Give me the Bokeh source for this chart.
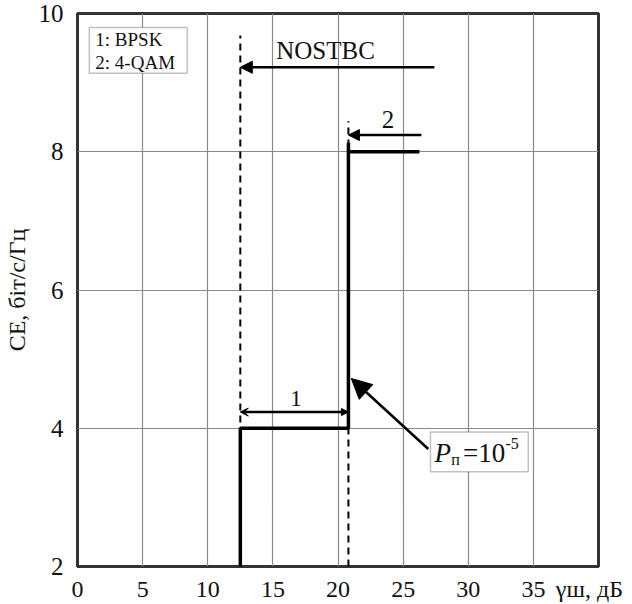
from bokeh.plotting import figure
from bokeh.models import (Range1d, FixedTicker, Label, Arrow, NormalHead, VeeHead,
                          BoxAnnotation)
from bokeh.embed import file_html
from bokeh.resources import INLINE

# ---- data ----
x_ticks = [0, 5, 10, 15, 20, 25, 30, 35, 40]
y_ticks = [2, 4, 6, 8, 10]
x_label_text = "γш, дБ"
x_label_tick = 39.3          # where the x-axis caption sits (after the 35 tick)
y_label_text = "СЕ, біт/с/Гц"

# CE step curve (gamma threshold, dB -> bits/s/Hz)
step_x = [12.5, 12.5, 20.8, 20.8]
step_y = [2.0, 4.0, 4.0, 8.13]
top_x = [20.8, 26.25]
top_y = [8.0, 8.0]

# dashed threshold lines
dash1_x = [12.5, 12.5]
dash1_y = [2.0, 9.68]
dash2_x = [20.8, 20.8]
dash2_y = [2.0, 8.44]

# annotation arrows: (x_start, y_start, x_end, y_end)
arrow_nostbc = [27.4, 9.222, 12.5, 9.222]
arrow_2 = [26.4, 8.241, 20.8, 8.241]
arrow_1 = [12.5, 4.234, 20.8, 4.234]
arrow_p = [26.93, 3.70, 21.02, 4.72]

# annotation texts
nostbc_text = "NOSTBC"
nostbc_pos = [15.26, 9.351]
lab2_text = "2"
lab2_pos = [23.83, 8.357]
lab1_text = "1"
lab1_pos = [16.77, 4.321]
legend_lines = ["1: BPSK", "2: 4-QAM"]
legend_pos = [[1.37, 9.539], [1.37, 9.207]]
legend_box = [0.91, 8.42, 9.135, 9.798]  # left, right, bottom, top
p_box = [27.10, 34.61, 3.369, 3.946]
p_parts = ["P", "п", "=10", "-5"]
p_pos = [[27.40, 3.513], [28.69, 3.47], [29.60, 3.513], [32.86, 3.70]]

FONT = "Liberation Serif"

p = figure(width=632, height=604, output_backend="svg", toolbar_location=None,
           x_range=Range1d(0, 40), y_range=Range1d(2, 10),
           min_border_left=71, min_border_right=34, min_border_top=13,
           min_border_bottom=36)
p.background_fill_color = "white"
p.border_fill_color = "white"
p.outline_line_color = "#333333"
p.outline_line_width = 3

axis_ticks = [t for t in x_ticks if t < 40] + [x_label_tick]
p.xaxis.ticker = FixedTicker(ticks=axis_ticks)
p.xgrid.ticker = FixedTicker(ticks=x_ticks)
p.yaxis.ticker = FixedTicker(ticks=y_ticks)
p.xaxis.major_label_overrides = {x_label_tick: x_label_text}
p.xaxis.axis_line_color = None
p.yaxis.axis_line_color = None
p.xaxis.major_tick_line_color = None
p.yaxis.major_tick_line_color = None
p.xaxis.minor_tick_line_color = None
p.yaxis.minor_tick_line_color = None
p.xaxis.major_label_text_font = FONT
p.yaxis.major_label_text_font = FONT
p.xaxis.major_label_text_font_size = "24px"
p.yaxis.major_label_text_font_size = "25px"
p.xaxis.major_label_text_color = "#111111"
p.yaxis.major_label_text_color = "#111111"
p.xaxis.major_label_standoff = 3
p.yaxis.major_label_standoff = 8
p.yaxis.axis_label = y_label_text
p.yaxis.axis_label_text_font = FONT
p.yaxis.axis_label_text_font_size = "24px"
p.yaxis.axis_label_text_font_style = "normal"
p.yaxis.axis_label_text_color = "#111111"
p.yaxis.axis_label_standoff = 6

p.grid.grid_line_color = "#8a8a8a"
p.grid.grid_line_width = 1.2
p.grid.grid_line_alpha = 1.0

# dashed lines
p.line(dash1_x, dash1_y, line_color="black", line_width=2, line_dash="7 5")
p.line(dash2_x, dash2_y, line_color="black", line_width=2, line_dash="7 5")

# step curve
p.line(step_x, step_y, line_color="black", line_width=3.5)
p.line(top_x, top_y, line_color="black", line_width=3.5)

# arrows
def add_arrow(a, lw, head_end=None, head_start=None):
    p.add_layout(Arrow(x_start=a[0], y_start=a[1], x_end=a[2], y_end=a[3],
                       line_color="black", line_width=lw,
                       end=head_end, start=head_start))

add_arrow(arrow_nostbc, 2.5, head_end=NormalHead(size=12, fill_color="black", line_color="black"))
add_arrow(arrow_2, 2.5, head_end=NormalHead(size=11, fill_color="black", line_color="black"))
add_arrow(arrow_1, 2.5, head_end=NormalHead(size=7, fill_color="black", line_color="black"),
          head_start=VeeHead(size=8, fill_color="black", line_color="black", line_width=1))
add_arrow(arrow_p, 2.5, head_end=NormalHead(size=20, fill_color="black", line_color="black"))

# text labels (small upward correction of the rendered baseline)
def add_text(txt, x, y, size, align="left", style="normal"):
    p.add_layout(Label(x=x, y=y, text=txt, text_font=FONT, text_font_size=f"{size}px",
                       text_align=align, text_baseline="alphabetic",
                       y_offset=0.32 * size,
                       text_font_style=style, text_color="#111111"))

add_text(nostbc_text, nostbc_pos[0], nostbc_pos[1], 25)
add_text(lab2_text, lab2_pos[0], lab2_pos[1], 25, align="center")
add_text(lab1_text, lab1_pos[0], lab1_pos[1], 23, align="center")

# legend box
p.add_layout(BoxAnnotation(left=legend_box[0], right=legend_box[1],
                           bottom=legend_box[2], top=legend_box[3],
                           fill_color="white", fill_alpha=1.0,
                           line_color="#333333", line_width=1.5))
for t, pos in zip(legend_lines, legend_pos):
    add_text(t, pos[0], pos[1], 19)

# P box
p.add_layout(BoxAnnotation(left=p_box[0], right=p_box[1],
                           bottom=p_box[2], top=p_box[3],
                           fill_color="white", fill_alpha=1.0,
                           line_color="#333333", line_width=1.5))
add_text(p_parts[0], p_pos[0][0], p_pos[0][1], 27, style="italic")
add_text(p_parts[1], p_pos[1][0], p_pos[1][1], 16)
add_text(p_parts[2], p_pos[2][0], p_pos[2][1], 27)
add_text(p_parts[3], p_pos[3][0], p_pos[3][1], 16)

open("out.html", "w").write(file_html(p, INLINE))
